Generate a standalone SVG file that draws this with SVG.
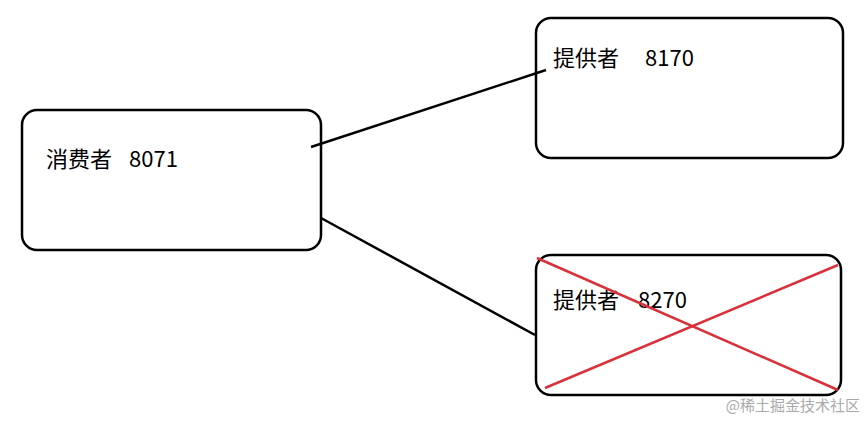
<svg xmlns="http://www.w3.org/2000/svg" width="866" height="421" viewBox="0 0 866 421">
<style>
.box{fill:#fff;stroke:#000;stroke-width:2.5}
.t{font-family:"Microsoft YaHei","Noto Sans CJK SC",sans-serif;font-size:22px;fill:#000}
.c{stroke:#000;stroke-width:2.5;fill:none}
.x{stroke:#d9313a;stroke-width:2.5}
</style>
<rect width="866" height="421" fill="#fff"/>
<g id="consumer">
<rect class="box" x="22" y="110" width="299" height="140" rx="15"/>
<text class="t" x="46" y="167">消费者<tspan x="129">8071</tspan></text>
</g>
<g id="provider1">
<rect class="box" x="536" y="18" width="307" height="140" rx="15"/>
<text class="t" x="553" y="66">提供者<tspan x="645">8170</tspan></text>
</g>
<g id="provider2">
<rect class="box" x="536" y="255" width="305" height="140" rx="15"/>
<text class="t" x="553" y="308">提供者<tspan x="638">8270</tspan></text>
<line class="x" x1="537" y1="258" x2="838" y2="390"/>
<line class="x" x1="545" y1="388" x2="838" y2="265"/>
</g>
<g id="connectors">
<line class="c" x1="311" y1="147" x2="546" y2="70"/>
<line class="c" x1="321" y1="218" x2="535" y2="335"/>
</g>
<text x="860" y="411" text-anchor="end" font-family="'Noto Sans CJK SC',sans-serif" font-size="15" fill="#aaa">@稀土掘金技术社区</text>
</svg>
